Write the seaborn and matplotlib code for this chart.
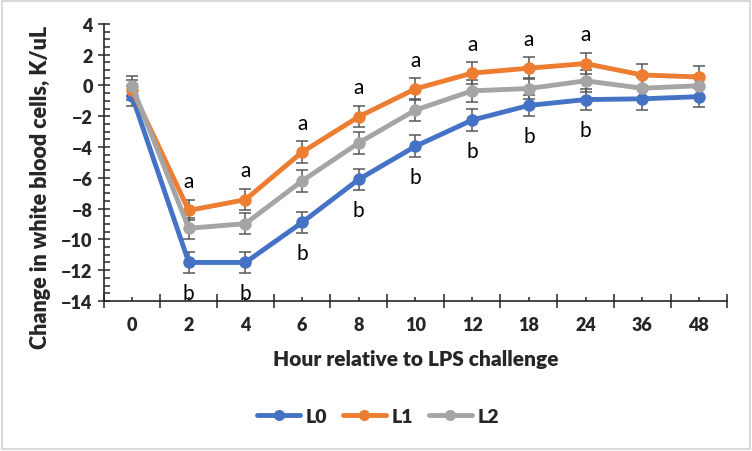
import seaborn as sns
import pandas as pd
import matplotlib.pyplot as plt
from matplotlib.patches import Rectangle
from matplotlib.ticker import MultipleLocator, FixedLocator

sns.set_theme(style="white")
plt.rcParams['font.family'] = ['Lato', 'DejaVu Sans']

hours = ['0', '2', '4', '6', '8', '10', '12', '18', '24', '36', '48']
L0 = [-0.7, -11.5, -11.5, -8.9, -6.1, -3.95, -2.25, -1.3, -0.92, -0.87, -0.73]
L1 = [-0.3, -8.12, -7.42, -4.33, -2.03, -0.22, 0.8, 1.12, 1.42, 0.68, 0.55]
L2 = [-0.05, -9.28, -8.98, -6.2, -3.73, -1.6, -0.35, -0.2, 0.3, -0.18, -0.02]
L0_se = [0.65, 0.7, 0.7, 0.7, 0.7, 0.7, 0.7, 0.7, 0.7, 0.7, 0.7]
L1_se = [0.65, 0.65, 0.7, 0.7, 0.7, 0.7, 0.7, 0.7, 0.7, 0.7, 0.7]
L2_se = [0.65, 0.7, 0.7, 0.7, 0.7, 0.7, 0.7, 0.7, 0.7, 0.7, 0.7]
# significance letters (upper over L1, lower under L0)
letters_a = ['', 'a', 'a', 'a', 'a', 'a', 'a', 'a', 'a', '', '']
letters_b = ['', 'b', 'b', 'b', 'b', 'b', 'b', 'b', 'b', '', '']

colors = {'L0': '#4472C4', 'L1': '#ED7D31', 'L2': '#A5A5A5'}
series = {'L0': (L0, L0_se), 'L1': (L1, L1_se), 'L2': (L2, L2_se)}
W = 'heavy'

rows = []
for name, (vals, se) in series.items():
    for i, (v, e) in enumerate(zip(vals, se)):
        rows.append({'pos': i, 'hour': hours[i], 'value': v, 'se': e, 'group': name})
df = pd.DataFrame(rows)

fig = plt.figure(figsize=(7.52, 4.52), dpi=100)
ax = fig.add_axes([0.138, 0.332, 0.829, 0.613])

# error bars first, under the lines
for name in ['L0', 'L1', 'L2']:
    d = df[df.group == name]
    ax.errorbar(d.pos, d.value, yerr=d.se, fmt='none', ecolor='#595959',
                elinewidth=1.1, capsize=4, capthick=1.1, zorder=2)

sns.lineplot(data=df, x='pos', y='value', hue='group', palette=colors,
             marker='o', markersize=9, markeredgewidth=0, linewidth=3.5,
             ax=ax, zorder=3, legend=True)

for i in range(len(hours)):
    if letters_a[i]:
        ax.text(i, L1[i] + 1.9, letters_a[i], ha='center', va='center', fontsize=15, color='black')
    if letters_b[i]:
        ax.text(i, L0[i] - 2.0, letters_b[i], ha='center', va='center', fontsize=15, color='black')

ax.set_xlim(-0.5, len(hours) - 0.5)
ax.set_ylim(-14, 4)
ax.xaxis.set_major_locator(FixedLocator([i - 0.5 for i in range(len(hours) + 1)]))
ax.xaxis.set_minor_locator(FixedLocator(list(range(len(hours)))))
ax.set_xticklabels([])
for i, h in enumerate(hours):
    ax.text(i, -15.5, h, ha='center', va='center', fontsize=13, fontweight=W)
ax.yaxis.set_major_locator(MultipleLocator(2))
ax.yaxis.set_minor_locator(MultipleLocator(0.5))
ax.tick_params(axis='x', which='major', direction='inout', length=10, width=1.1, color='#262626', bottom=True)
ax.tick_params(axis='x', which='minor', direction='in', length=3, width=1.1, color='#262626', bottom=True)
ax.tick_params(axis='y', which='major', direction='inout', length=9, width=1.1, color='#262626', left=True,
               labelsize=13)
ax.tick_params(axis='y', which='minor', direction='in', length=4, width=1.1, color='#262626', left=True)
for lab in ax.get_yticklabels():
    lab.set_fontweight(W)

for s in ['top', 'right']:
    ax.spines[s].set_visible(False)
for s in ['left', 'bottom']:
    ax.spines[s].set_color('#262626')
    ax.spines[s].set_linewidth(1.2)

ax.set_xlabel('Hour relative to LPS challenge', fontsize=15, fontweight=W, labelpad=26)
ax.set_ylabel('Change in white blood cells, K/uL', fontsize=15.5, fontweight=W)
ax.yaxis.set_label_coords(-0.085, 0.415)

handles, labels = ax.get_legend_handles_labels()
for h in handles:
    h.set_markersize(8)
ax.legend(handles, labels, loc='center', bbox_to_anchor=(0.503, 0.077), bbox_transform=fig.transFigure,
          ncol=3, frameon=False, handlelength=2.2, columnspacing=0.8, handletextpad=0.3,
          prop={'size': 14, 'weight': W})

fig.patches.append(Rectangle((0.003, 0.004), 0.994, 0.992, transform=fig.transFigure,
                             fill=False, edgecolor='#d9d9d9', linewidth=1.5))

fig.savefig('out.png', dpi=100)
